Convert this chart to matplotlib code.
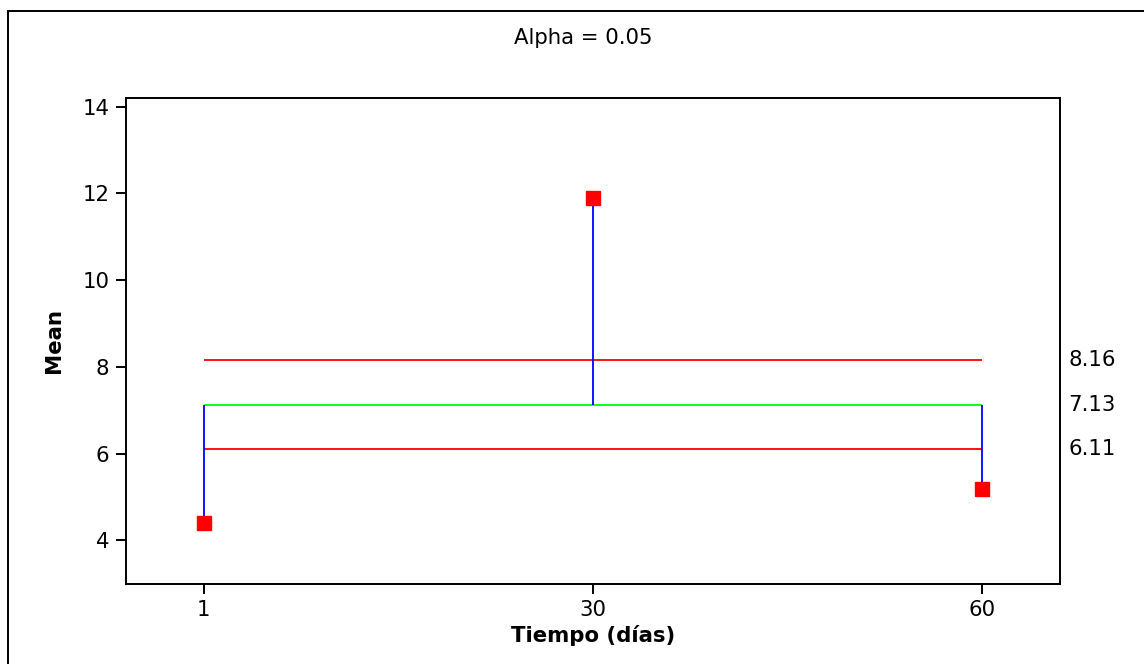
import matplotlib
matplotlib.use("Agg")
import matplotlib.pyplot as plt
import matplotlib.transforms as mtransforms
from matplotlib.patches import Rectangle
import numpy as np

# ANOM chart: means per time group against decision limits
groups = ["1", "30", "60"]
means = [4.41, 11.90, 5.19]
center = 7.13
udl = 8.16
ldl = 6.11
limit_labels = ["8.16", "7.13", "6.11"]

plt.rcParams["font.family"] = ["DejaVu Sans"]
fs = 15.3

fig = plt.figure(figsize=(11.44, 6.64), dpi=100)
ax = fig.add_axes([0.1101, 0.1209, 0.8165, 0.7315])

x = np.arange(len(groups))

ax.hlines([udl, ldl], x[0], x[-1], color="#ff0000", lw=1.3, zorder=2)
ax.hlines(center, x[0], x[-1], color="#00ff00", lw=1.3, zorder=2)
ax.vlines(x, center, means, color="#0000ff", lw=1.3, zorder=3)
ax.plot(x, means, ls="none", marker="s", ms=9.4, color="#ff0000",
        markeredgecolor="#ff0000", zorder=4)

ax.set_xlim(-0.2, 2.2)
ax.set_ylim(3.0, 14.2)
ax.set_xticks(x)
ax.set_xticklabels(groups)
ax.set_yticks([4, 6, 8, 10, 12, 14])

for side in ["left", "bottom", "right", "top"]:
    ax.spines[side].set_linewidth(1.4)
ax.tick_params(axis="both", direction="out", length=7, width=1.4,
               labelsize=fs, pad=5)

ax.set_xlabel("Tiempo (días)", fontsize=fs, fontweight="bold", labelpad=3)
ax.set_ylabel("Mean", fontsize=fs, fontweight="bold", labelpad=13)

# limit values written just right of the plotting area
trans = mtransforms.blended_transform_factory(ax.transAxes, ax.transData)
for val, lab in zip([udl, center, ldl], limit_labels):
    ax.text(1.0086, val, lab, transform=trans, ha="left", va="center",
            fontsize=fs)

fig.text(583 / 1144, 1 - 38 / 664, "Alpha = 0.05", ha="center", va="center",
         fontsize=fs)

# outer frame
frame = Rectangle((8 / 1144, -0.05), 1.1, 1 - 11 / 664 + 0.05,
                  transform=fig.transFigure, fill=False, edgecolor="black",
                  lw=1.4, clip_on=False)
fig.patches.append(frame)

fig.savefig("out.png", dpi=100)
